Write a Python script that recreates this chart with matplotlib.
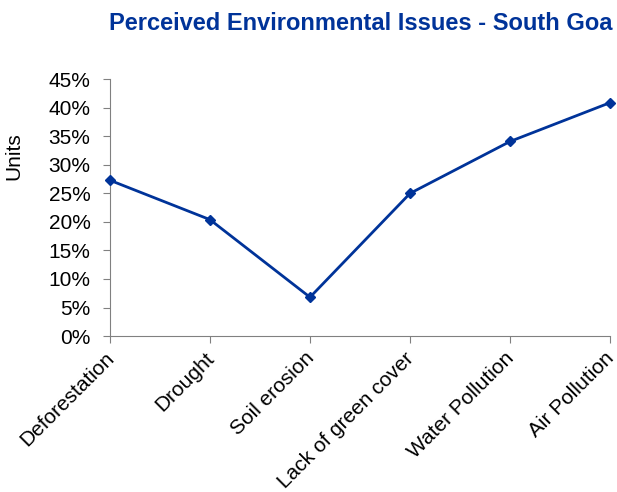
import matplotlib
matplotlib.use("Agg")
import matplotlib.pyplot as plt
from matplotlib.ticker import PercentFormatter

plt.rcParams['font.family'] = ['Liberation Sans', 'DejaVu Sans']

# data
issues = ["Deforestation", "Drought", "Soil erosion", "Lack of green cover",
          "Water Pollution", "Air Pollution"]
share = [27.3, 20.4, 6.8, 25.0, 34.1, 40.9]
yticks = [0, 5, 10, 15, 20, 25, 30, 35, 40, 45]

line_color = '#003399'

fig = plt.figure(figsize=(6.17, 4.92), dpi=100)
ax = fig.add_axes([0.178, 0.317, 0.811, 0.522])

x = list(range(len(issues)))
ax.plot(x, share, color=line_color, linewidth=2, marker='D', markersize=5,
        clip_on=False, zorder=3)

ax.set_xlim(0, len(issues) - 1)
ax.set_ylim(0, 45)
ax.set_yticks(yticks)
ax.yaxis.set_major_formatter(PercentFormatter(decimals=0))
ax.set_xticks(x)
ax.set_xticklabels([])

# slanted category labels, nudged a bit left of each tick
for i, name in enumerate(issues):
    ax.annotate(name, xy=(i, 0), xycoords=('data', 'axes fraction'),
                xytext=(-4, -9), textcoords='offset points',
                rotation=45, ha='right', va='top', rotation_mode='anchor',
                fontsize=15, annotation_clip=False)

for side in ['top', 'right']:
    ax.spines[side].set_visible(False)
for side in ['left', 'bottom']:
    ax.spines[side].set_color('#808080')
ax.tick_params(axis='both', colors='#808080', labelcolor='black',
               labelsize=15, length=5, direction='out')
ax.tick_params(axis='y', pad=9)

ax.set_ylabel("Units", fontsize=15)
ax.yaxis.set_label_coords(-0.172, 0.70)
fig.text(0.585, 0.952, "Perceived Environmental Issues - South Goa",
         ha='center', va='center', fontsize=17, fontweight='bold',
         color=line_color)

fig.savefig("out.png", dpi=100)
